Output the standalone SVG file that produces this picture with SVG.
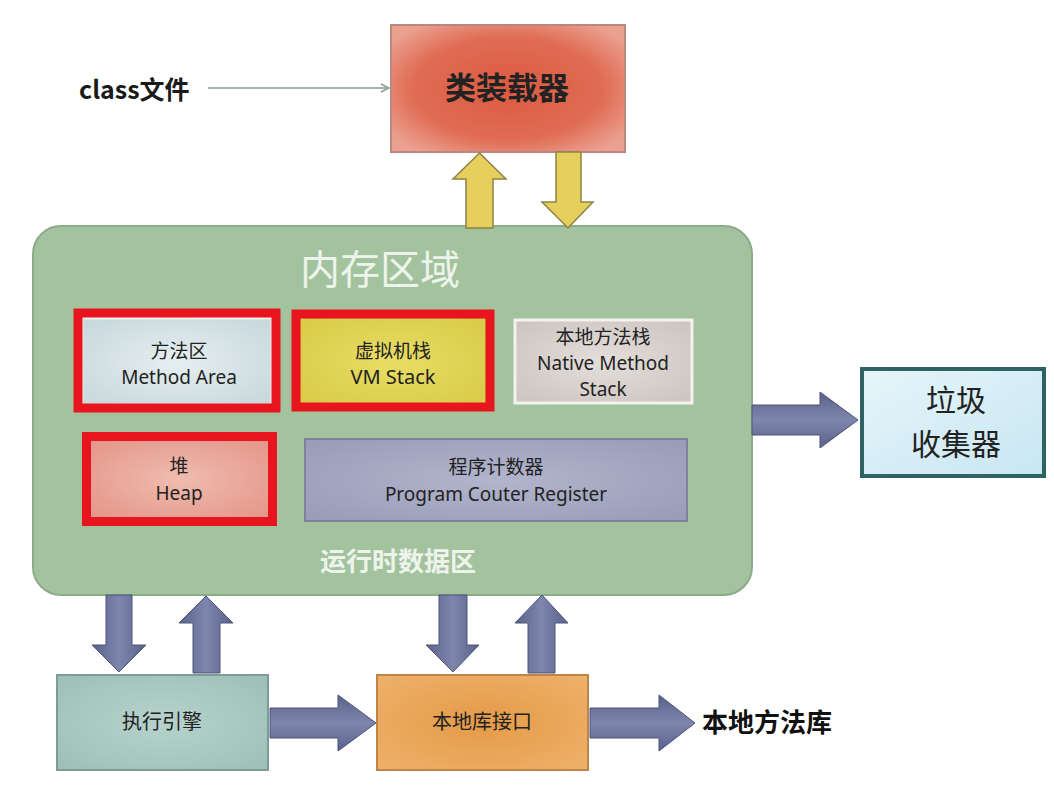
<svg xmlns="http://www.w3.org/2000/svg" width="1054" height="803" viewBox="0 0 1054 803">
<defs>
<radialGradient id="gLoader" cx="50%" cy="50%" r="62%">
<stop offset="0" stop-color="#dc5a40"/><stop offset="0.65" stop-color="#e06c54"/><stop offset="1" stop-color="#eba090"/>
</radialGradient>
<radialGradient id="gMethod" cx="50%" cy="50%" r="65%">
<stop offset="0" stop-color="#e6eef0"/><stop offset="1" stop-color="#c8d8dc"/>
</radialGradient>
<radialGradient id="gVM" cx="50%" cy="50%" r="65%">
<stop offset="0" stop-color="#e9dd66"/><stop offset="1" stop-color="#d8cc48"/>
</radialGradient>
<radialGradient id="gNative" cx="50%" cy="50%" r="65%">
<stop offset="0" stop-color="#e4dedb"/><stop offset="1" stop-color="#cdc5c0"/>
</radialGradient>
<radialGradient id="gHeap" cx="50%" cy="50%" r="65%">
<stop offset="0" stop-color="#efbcb0"/><stop offset="1" stop-color="#e4988a"/>
</radialGradient>
<radialGradient id="gPC" cx="50%" cy="50%" r="65%">
<stop offset="0" stop-color="#b2b5cc"/><stop offset="1" stop-color="#9a9db8"/>
</radialGradient>
<radialGradient id="gExec" cx="50%" cy="50%" r="65%">
<stop offset="0" stop-color="#b5d3cc"/><stop offset="1" stop-color="#9fc0b8"/>
</radialGradient>
<radialGradient id="gIface" cx="50%" cy="50%" r="65%">
<stop offset="0" stop-color="#e59a48"/><stop offset="1" stop-color="#edb068"/>
</radialGradient>
<linearGradient id="gGC" x1="0" y1="0" x2="1" y2="1">
<stop offset="0" stop-color="#e6f5fa"/><stop offset="1" stop-color="#c8e6f2"/>
</linearGradient>
<linearGradient id="gArrV" x1="0" y1="0" x2="1" y2="0">
<stop offset="0" stop-color="#59628c"/><stop offset="0.5" stop-color="#7f86ad"/><stop offset="1" stop-color="#59628c"/>
</linearGradient>
<linearGradient id="gArrH" x1="0" y1="0" x2="0" y2="1">
<stop offset="0" stop-color="#59628c"/><stop offset="0.5" stop-color="#7f86ad"/><stop offset="1" stop-color="#59628c"/>
</linearGradient>
<marker id="thin" markerWidth="10" markerHeight="10" refX="9" refY="5" orient="auto" markerUnits="userSpaceOnUse">
<path d="M1,1 L9,5 L1,9" fill="none" stroke="#8a9a96" stroke-width="1.5"/>
</marker>
</defs>
<style>
.cjk{font-family:"Noto Sans CJK SC","Noto Sans",sans-serif;}
.lat{font-family:"Noto Sans","Noto Sans CJK SC",sans-serif;}
.box{stroke-width:2;}
.hl{fill:none;stroke:#e8141e;stroke-width:9;}
.yarr{fill:#e6cf5c;stroke:#8c8444;stroke-width:1.5;}
.barrV{fill:url(#gArrV);stroke:#4c547a;stroke-width:1;}
.barrH{fill:url(#gArrH);stroke:#4c547a;stroke-width:1;}
.t{fill:#222;text-anchor:middle;}
</style>
<rect width="1054" height="803" fill="#ffffff"/>

<g id="class-file">
<text class="cjk" x="79" y="99" font-size="25" font-weight="bold" fill="#1a1a1a">class文件</text>
</g>

<g id="class-loader">
<rect x="391" y="25" width="234" height="127" fill="url(#gLoader)" stroke="#b88880" class="box"/>
<text class="cjk t" x="507" y="99" font-size="31" font-weight="bold" fill="#2a1a18">类装载器</text>
</g>

<g id="runtime-data-area">
<rect x="33" y="226" width="719" height="369" rx="28" ry="28" fill="#a3c39f" stroke="#8cab88" stroke-width="2"/>
<text class="cjk" x="380" y="284" font-size="40" fill="#eef4ec" text-anchor="middle">内存区域</text>
<text class="cjk" x="398" y="571" font-size="26" font-weight="bold" fill="#eef4ec" text-anchor="middle">运行时数据区</text>
</g>

<g id="method-area">
<rect x="82" y="318" width="190" height="88" fill="url(#gMethod)" stroke="#eaf2ea" stroke-width="3"/>
<text class="cjk t" x="179" y="358" font-size="19">方法区</text>
<text class="lat t" x="179" y="384" font-size="19">Method Area</text>
<rect class="hl" x="78" y="313" width="198" height="95"/>
</g>

<g id="vm-stack">
<rect x="300" y="318" width="186" height="86" fill="url(#gVM)" stroke="#c6bd48" stroke-width="2"/>
<text class="cjk t" x="393" y="358" font-size="19">虚拟机栈</text>
<text class="lat t" x="393" y="384" font-size="20">VM Stack</text>
<rect class="hl" x="296" y="314" width="194" height="93"/>
</g>

<g id="native-method-stack">
<rect x="515" y="320" width="177" height="83" fill="url(#gNative)" stroke="#f4f2f0" stroke-width="3"/>
<text class="cjk t" x="603" y="344" font-size="19">本地方法栈</text>
<text class="lat t" x="603" y="370" font-size="19">Native Method</text>
<text class="lat t" x="603" y="396" font-size="19">Stack</text>
</g>

<g id="heap">
<rect x="90" y="440" width="179" height="78" fill="url(#gHeap)" stroke="#e8b4a8" stroke-width="2"/>
<text class="cjk t" x="179" y="473" font-size="19">堆</text>
<text class="lat t" x="179" y="500" font-size="19">Heap</text>
<rect class="hl" x="86.5" y="436.5" width="186" height="85"/>
</g>

<g id="program-counter">
<rect x="305" y="439" width="382" height="82" fill="url(#gPC)" stroke="#7c82a0" stroke-width="2"/>
<text class="cjk t" x="496" y="474" font-size="19">程序计数器</text>
<text class="lat t" x="496" y="501" font-size="19">Program Couter Register</text>
</g>

<g id="garbage-collector">
<rect x="862" y="369" width="182" height="107" fill="url(#gGC)" stroke="#2f6262" stroke-width="4"/>
<text class="cjk t" x="956" y="411" font-size="30" fill="#333">垃圾</text>
<text class="cjk t" x="956" y="455" font-size="30" fill="#333">收集器</text>
</g>

<g id="execution-engine">
<rect x="57" y="675" width="211" height="95" fill="url(#gExec)" stroke="#7c9c96" stroke-width="2"/>
<text class="cjk t" x="162" y="729" font-size="20">执行引擎</text>
</g>

<g id="native-interface">
<rect x="377" y="675" width="211" height="95" fill="url(#gIface)" stroke="#c08448" stroke-width="2"/>
<text class="cjk t" x="482" y="729" font-size="20">本地库接口</text>
</g>

<g id="native-library">
<text class="cjk" x="702" y="732" font-size="26" font-weight="bold" fill="#111">本地方法库</text>
</g>

<g id="connectors">
<line x1="208" y1="88" x2="389" y2="88" stroke="#8a9a96" stroke-width="1.5" marker-end="url(#thin)"/>
<polygon class="yarr" points="479.5,153 506,179 493,179 493,228 466,228 466,179 453,179"/>
<polygon class="yarr" points="556,152 581,152 581,202 593,202 568,228 542,202 556,202"/>
<polygon class="barrH" points="752,405 820,405 820,392 858,420 820,448 820,435 752,435"/>
<polygon class="barrV" points="106,595 132,595 132,645 146,645 119,672 92,645 106,645"/>
<polygon class="barrV" points="206,596 233,623 220,623 220,673 193,673 193,623 179,623"/>
<polygon class="barrV" points="439,595 467,595 467,645 479,645 453,672 426,645 439,645"/>
<polygon class="barrV" points="542,595 568,623 555,623 555,673 528,673 528,623 515,623"/>
<polygon class="barrH" points="270,708 338,708 338,695 376,723 338,751 338,738 270,738"/>
<polygon class="barrH" points="590,708 659,708 659,695 695,723 659,751 659,738 590,738"/>
</g>
</svg>
